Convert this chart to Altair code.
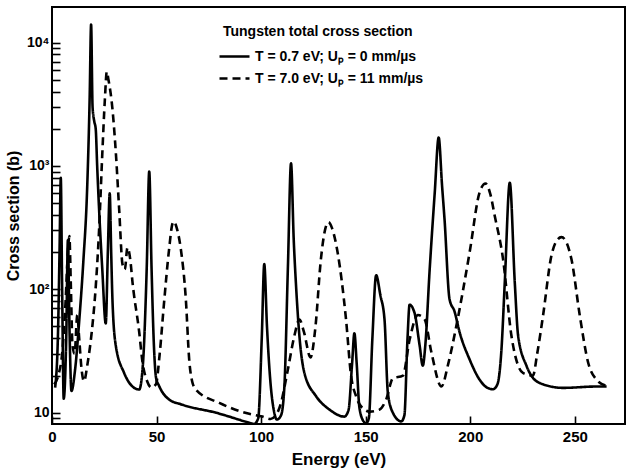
import altair as alt
import pandas as pd

# ---------------- data ----------------
series_names = ["T = 0.7 eV;  U\u209a = 0 mm/\u00b5s", "T = 7.0 eV;  U\u209a = 11 mm/\u00b5s"]

solid_E = [1.5, 2.8, 3.6, 4.2, 4.8, 5.6, 6.8, 7.6, 8.4, 9.3, 11, 13, 15, 16.8, 18.0, 18.7,
           19.4, 20.2, 20.9, 21.6, 22.5, 24.0, 25.7, 26.7, 27.6, 28.3, 28.9, 30.5, 34.5, 39.3,
           41.7, 43.5, 45.3, 46.5, 47.6, 48.6, 49.8, 51.2, 56, 62.4, 78.4, 94.3, 96.6, 98.6,
           100.3, 101.5, 102.8, 104.2, 106.3, 107.5, 109.5, 111.1, 112.8, 114.3, 115.6, 116.7,
           118.3, 120.7, 126.3, 132.7, 139.8, 141.8, 143.5, 144.6, 145.7, 147, 149, 150.2, 151.5,
           153.2, 155, 157, 159, 160.6, 163, 167, 168.5, 170, 171, 173.4, 175.8, 177.3, 178.5,
           180.6, 183, 184.9, 186.5, 187.7, 190.1, 192.5, 194.9, 199.7, 204.5, 208, 210.9, 213,
           214.9, 216.5, 218.9, 221.3, 222.9, 226.9, 233.2, 244.4, 260.4, 265.2]
solid_S = [16, 40, 200, 800, 120, 13, 40, 250, 45, 15, 22, 55, 170, 650, 3500, 14000,
           3000, 2300, 2000, 1000, 450, 150, 53, 200, 600, 200, 83, 35, 21, 15.9,
           15.4, 25, 150, 900, 150, 40, 19, 16.5, 12.8, 11.6, 10, 8.3, 8.1, 9,
           40, 160, 50, 20, 10, 8.8, 9.5, 16, 150, 1050, 250, 107,
           42, 21, 13.6, 10.6, 9.3, 10.5, 25, 44, 25, 11, 8.5, 8.2, 9,
           40, 130, 90, 57, 14.5, 10, 8.5, 9.5, 40, 75, 64, 35, 24, 35,
           145, 600, 1700, 700, 370, 83, 66, 45, 27, 18.5, 16, 15.5, 17,
           32, 113, 730, 113, 42, 24, 17.4, 15.9, 16.3, 16.3]

dash_E = [1.0, 3.0, 5.0, 6.5, 7.6, 8.3, 9.0, 9.8, 10.8, 12.1, 13.0, 14.2, 15.3, 17.0, 19.0,
          21.0, 22.5, 24.0, 25.3, 26.2, 27.0, 28.9, 30.5, 32.1, 33.7, 34.8, 36.1, 37.5, 38.5,
          41.7, 43.3, 45.5, 47.5, 49.7, 51.5, 53.5, 56, 57.6, 58.4, 59.5, 61.6, 64, 65.6, 67,
          68.8, 80, 94.3, 100.6, 104.5, 107, 109.5, 112.7, 115.9, 118.3, 120.5, 123.6, 126,
          128.5, 130.5, 132.2, 134, 136.6, 140.6, 143, 145.4, 149.4, 152, 156.6, 159.8, 163,
          167.8, 171, 175, 178.2, 181.4, 186.2, 189.5, 193.3, 199.7, 204.5, 207.3, 209.5,
          211.7, 215.7, 219.7, 225.2, 230, 232, 234.8, 238.8, 241.5, 243.6, 246, 248.4,
          252.4, 256.4, 260.4, 265.2]
dash_S = [17, 20, 32, 80, 200, 270, 110, 35, 30, 62, 40, 22, 18, 25, 45,
          110, 300, 1200, 3500, 5800, 5000, 2900, 1300, 450, 160, 145, 218, 170, 114,
          45, 25.5, 18, 16, 17, 30, 75, 212, 340, 355, 320, 212, 83, 27, 18,
          15.4, 12, 9.8, 9.3, 8.9, 9.5, 12, 22, 42, 57, 45, 28, 50,
          170, 300, 350, 310, 198, 57, 20, 13.6, 10.6, 10.2, 10.6, 12.8, 19,
          20, 39, 62, 57, 31, 16.3, 25, 50, 199, 613, 720, 600,
          395, 175, 42, 21, 20, 30, 61, 187, 250, 265, 240, 175,
          61, 25.4, 18.5, 16.5]

x_ticks = [0, 50, 100, 150, 200, 250]
y_major = [10, 100, 1000, 10000]
y_minor = [9, 20, 30, 40, 50, 60, 70, 80, 90, 200, 300, 400, 500, 600, 700, 800, 900,
           2000, 3000, 4000, 5000, 6000, 7000, 8000, 9000]

df = pd.concat([
    pd.DataFrame({"E": solid_E, "S": solid_S, "series": series_names[0], "order": range(len(solid_E))}),
    pd.DataFrame({"E": dash_E, "S": dash_S, "series": series_names[1], "order": range(len(dash_E))}),
], ignore_index=True)

# ---------------- layout ----------------
W, H = 573, 417
FONT = "Liberation Sans"
TICK = 8

xs = alt.Scale(domain=[0, 274], nice=False, zero=False)
ys = alt.Scale(type="log", domain=[8.1, 19400], nice=False)

label_expr = ("datum.value == 10 ? '10' : datum.value == 100 ? '10\u00b2' : "
              "datum.value == 1000 ? '10\u00b3' : datum.value == 10000 ? '10\u2074' : ''")

# negative offset + equal tick length: the ticks sit just inside the frame, pointing inward
x_axis_main = alt.Axis(values=x_ticks, title="Energy (eV)", ticks=True, tickSize=TICK, offset=-TICK,
                       tickColor="black", tickWidth=1.6, domain=False, grid=False,
                       labelFont=FONT, labelFontSize=15, labelFontWeight="bold", labelColor="black",
                       labelPadding=5, titleFont=FONT, titleFontSize=17, titleFontWeight="bold",
                       titleColor="black", titlePadding=7, labelFlush=False)
y_axis_main = alt.Axis(values=y_major + y_minor, labelExpr=label_expr, title="Cross section (b)",
                       ticks=True, tickSize=TICK, offset=-TICK, tickColor="black", tickWidth=1.6,
                       domain=False, grid=False, labelFont=FONT, labelFontSize=14,
                       labelFontWeight="bold", labelColor="black", labelPadding=3,
                       titleFont=FONT, titleFontSize=16, titleFontWeight="bold", titleColor="black",
                       titlePadding=5)

chart = alt.Chart(df).mark_line(strokeWidth=2.6, color="black", interpolate="monotone", clip=True).encode(
    x=alt.X("E:Q", scale=xs, axis=x_axis_main),
    y=alt.Y("S:Q", scale=ys, axis=y_axis_main),
    order="order:Q",
    strokeDash=alt.StrokeDash(
        "series:N",
        scale=alt.Scale(domain=series_names, range=[[1, 0], [8, 5]]),
        legend=alt.Legend(
            title="Tungsten total cross section", orient="none", legendX=171, legendY=18,
            padding=0, titleFont=FONT, titleFontSize=14, titleFontWeight="bold", titleColor="black",
            titlePadding=6, titleLimit=400, labelFont=FONT, labelFontSize=14, labelFontWeight="bold",
            labelColor="black", labelLimit=400, labelOffset=9,
            symbolType="M-1.5,0H1.5", symbolSize=400, symbolStrokeWidth=2.4,
            symbolStrokeColor="black", rowPadding=3,
        ),
    ),
).properties(
    width=W, height=H,
    padding={"left": 52, "top": 7, "right": 2, "bottom": 48},
    autosize=alt.AutoSizeParams(type="none"),
    background="white",
).configure_view(stroke="black", strokeWidth=2)

chart.save("out.html", embed_options={"renderer": "svg", "actions": False})
